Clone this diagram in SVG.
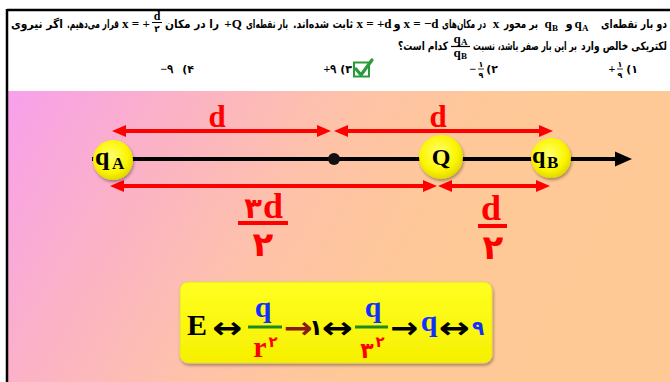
<svg xmlns="http://www.w3.org/2000/svg" width="670" height="382" viewBox="0 0 670 382">
<defs>
<style>
.fa{font-family:"DejaVu Sans",sans-serif;font-weight:bold;font-size:11.5px;fill:#000;direction:rtl;text-anchor:middle}
.m{font-family:"Liberation Serif","DejaVu Serif",serif;font-weight:bold;font-size:13px;fill:#000;text-anchor:middle}
.ms{font-family:"Liberation Serif","DejaVu Serif",serif;font-weight:bold;font-size:9px;fill:#000}
.op{font-family:"DejaVu Sans",sans-serif;font-weight:bold;font-size:11px;fill:#000;text-anchor:middle}
.num{font-family:"DejaVu Sans",sans-serif;font-weight:bold;fill:#000;text-anchor:middle}
.big{font-family:"Liberation Serif","DejaVu Serif",serif;font-weight:bold;fill:#ff0000;text-anchor:middle}
.bign{font-family:"DejaVu Sans",sans-serif;font-weight:bold;fill:#ff0000;text-anchor:middle}
.lbl{font-family:"Liberation Serif","DejaVu Serif",serif;font-weight:bold;fill:#000}
.dim{stroke:#ff0000;stroke-width:4;fill:none;marker-start:url(#ah);marker-end:url(#ah)}
.fx{font-family:"Liberation Serif","DejaVu Serif",serif;font-weight:bold;font-size:30px;text-anchor:middle}
.fn{font-family:"DejaVu Sans",sans-serif;font-weight:bold;text-anchor:middle}
.ar{font-family:"DejaVu Sans",sans-serif;font-weight:bold;font-size:30px;text-anchor:middle}
</style>
<linearGradient id="bg" x1="0" y1="0" x2="1" y2="0.25">
<stop offset="0" stop-color="#f8a0ec"/>
<stop offset="0.25" stop-color="#fbb2c6"/>
<stop offset="0.5" stop-color="#fec3a8"/>
<stop offset="0.7" stop-color="#ffc898"/>
<stop offset="1" stop-color="#ffc996"/>
</linearGradient>
<radialGradient id="ball" cx="0.45" cy="0.4" r="0.6">
<stop offset="0" stop-color="#ffff70"/>
<stop offset="0.7" stop-color="#fbf500"/>
<stop offset="1" stop-color="#e2d800"/>
</radialGradient>
<linearGradient id="box" x1="0" y1="0" x2="0" y2="1">
<stop offset="0" stop-color="#ffff20"/>
<stop offset="1" stop-color="#f6f000"/>
</linearGradient>
<filter id="sh" x="-30%" y="-30%" width="160%" height="160%">
<feDropShadow dx="1" dy="2" stdDeviation="1.5" flood-color="#000" flood-opacity="0.35"/>
</filter>
<marker id="ah" markerUnits="userSpaceOnUse" markerWidth="14" markerHeight="12" refX="4" refY="6" orient="auto-start-reverse">
<path d="M0,0 L14,6 L0,12 Z" fill="#ff0000"/>
</marker>
</defs>

<rect x="0" y="0" width="670" height="382" fill="#ffffff"/>
<rect x="8" y="91" width="662" height="291" fill="url(#bg)"/>
<line x1="7" y1="10" x2="670" y2="10" stroke="#000" stroke-width="2.5"/>
<line x1="7" y1="9" x2="7" y2="382" stroke="#000" stroke-width="2.5"/>

<g id="question">
<text class="fa" x="634" y="28" textLength="66" lengthAdjust="spacingAndGlyphs">دو بار نقطه‌ای</text>
<text class="m" x="578" y="28">q</text><text class="ms" x="582" y="31">A</text>
<text class="fa" x="569" y="28">و</text>
<text class="m" x="548" y="28">q</text><text class="ms" x="552" y="31">B</text>
<text class="fa" x="521" y="28" textLength="34" lengthAdjust="spacingAndGlyphs">بر محور</text>
<text class="m" x="496" y="28">x</text>
<text class="fa" x="464" y="28" textLength="44" lengthAdjust="spacingAndGlyphs">در مکان‌های</text>
<text class="m" x="421" y="28">x = −d</text>
<text class="fa" x="397" y="28">و</text>
<text class="m" x="374" y="28">x = +d</text>
<text class="fa" x="323" y="28" textLength="60" lengthAdjust="spacingAndGlyphs">ثابت شده‌اند.</text>
<text class="fa" x="267" y="28" textLength="42" lengthAdjust="spacingAndGlyphs">بار نقطه‌ای</text>
<text class="m" x="233" y="28">+Q</text>
<text class="fa" x="192" y="28" textLength="54" lengthAdjust="spacingAndGlyphs">را در مکان</text>
<text class="m" x="157" y="20" style="font-size:12px">d</text>
<line x1="152" y1="22.5" x2="162" y2="22.5" stroke="#000" stroke-width="1"/>
<text class="num" x="157" y="32" style="font-size:9px">۲</text>
<text class="m" x="136" y="28">x = +</text>
<text class="fa" x="93" y="28" textLength="52" lengthAdjust="spacingAndGlyphs">قرار می‌دهیم.</text>
<text class="fa" x="37" y="28" textLength="52" lengthAdjust="spacingAndGlyphs">اگر نیروی</text>

<text class="fa" x="624" y="50" textLength="86" lengthAdjust="spacingAndGlyphs">لکتریکی خالص وارد</text>
<text class="fa" x="525" y="50" textLength="104" lengthAdjust="spacingAndGlyphs">بر این بار صفر باشد، نسبت</text>
<text class="m" x="457" y="43">q</text><text class="ms" x="461" y="45">A</text>
<line x1="451" y1="46.5" x2="470" y2="46.5" stroke="#000" stroke-width="1.2"/>
<text class="m" x="457" y="57">q</text><text class="ms" x="461" y="59">B</text>
<text class="fa" x="423" y="50" textLength="50" lengthAdjust="spacingAndGlyphs">کدام است؟</text>

<text class="op" x="632" y="73">(۱</text>
<text class="m" x="612" y="73" style="font-size:12px">+</text>
<text class="num" x="620" y="67" style="font-size:8px">۱</text>
<line x1="617" y1="69" x2="623" y2="69" stroke="#000" stroke-width="0.8"/>
<text class="num" x="620" y="78" style="font-size:8px">۹</text>

<text class="op" x="492" y="73">(۲</text>
<text class="m" x="473" y="73" style="font-size:12px">−</text>
<text class="num" x="481" y="67" style="font-size:8px">۱</text>
<line x1="478" y1="69" x2="484" y2="69" stroke="#000" stroke-width="0.8"/>
<text class="num" x="481" y="78" style="font-size:8px">۹</text>

<text class="op" x="346" y="73">(۳</text>
<text class="m" x="330" y="73" style="font-size:12px">+۹</text>
<g id="check">
<rect x="354" y="62.5" width="15" height="14" fill="#ffffff" stroke="#2a9a3a" stroke-width="2"/>
<path d="M356,69 L361,75 L372,60" fill="none" stroke="#2a9a3a" stroke-width="3.2" stroke-linecap="round" stroke-linejoin="round"/>
</g>

<text class="op" x="188" y="73">(۴</text>
<text class="m" x="167" y="73" style="font-size:12px">−۹</text>
</g>

<g id="connectors">
<line x1="92" y1="159" x2="618" y2="159" stroke="#000" stroke-width="4"/>
<polygon points="615,151.5 632,159 615,166.5" fill="#000"/>
<line class="dim" x1="122" y1="131" x2="321" y2="131"/>
<line class="dim" x1="344" y1="131" x2="543" y2="131"/>
<line class="dim" x1="120" y1="186" x2="427" y2="186"/>
<line class="dim" x1="448" y1="186" x2="540" y2="186"/>
</g>

<g id="origin">
<circle cx="334" cy="159" r="6" fill="#111"/>
</g>

<g id="qA">
<circle cx="113" cy="160" r="20" fill="url(#ball)" filter="url(#sh)"/>
<text class="lbl" x="95" y="165" style="font-size:26px">q</text>
<text class="lbl" x="112" y="169" style="font-size:17px">A</text>
</g>
<g id="Q">
<circle cx="441" cy="157" r="22" fill="url(#ball)" filter="url(#sh)"/>
<text class="lbl" x="441" y="165" style="font-size:24px;text-anchor:middle">Q</text>
</g>
<g id="qB">
<circle cx="551" cy="158" r="20" fill="url(#ball)" filter="url(#sh)"/>
<text class="lbl" x="532" y="163" style="font-size:24px">q</text>
<text class="lbl" x="547" y="168" style="font-size:17px">B</text>
</g>

<g id="labels">
<text class="big" x="217" y="127" style="font-size:31px">d</text>
<text class="big" x="438" y="127" style="font-size:31px">d</text>
<text class="bign" x="253" y="218" style="font-size:29px">۳</text>
<text class="big" x="273" y="218" style="font-size:36px">d</text>
<line x1="238" y1="223" x2="288" y2="223" stroke="#ff0000" stroke-width="4"/>
<text class="bign" x="263" y="256" style="font-size:34px">۲</text>
<text class="big" x="491" y="220" style="font-size:36px">d</text>
<line x1="478" y1="226" x2="507" y2="226" stroke="#ff0000" stroke-width="4"/>
<text class="bign" x="493" y="259" style="font-size:34px">۲</text>
</g>

<g id="formula">
<rect x="180" y="282" width="312" height="81" rx="8" fill="url(#box)" stroke="#e6d84a" stroke-width="1" filter="url(#sh)"/>
<text class="fx" x="197" y="335" fill="#000">E</text>
<text class="ar" x="227" y="338" fill="#000" textLength="30" lengthAdjust="spacingAndGlyphs">↔</text>
<text class="fx" x="263" y="317" fill="#1030ff">q</text>
<line x1="248" y1="327" x2="282" y2="327" stroke="#1e8a1e" stroke-width="3"/>
<text class="fx" x="260" y="357" fill="#ff0000">r</text>
<text class="fn" x="273" y="347" fill="#ff0000" style="font-size:15px">۲</text>
<text class="ar" x="298" y="338" fill="#8b1a1a" textLength="29" lengthAdjust="spacingAndGlyphs">→</text>
<text class="fn" x="316" y="335" fill="#000" style="font-size:22px">۱</text>
<text class="ar" x="337" y="338" fill="#000" textLength="31" lengthAdjust="spacingAndGlyphs">↔</text>
<text class="fx" x="373" y="317" fill="#1030ff">q</text>
<line x1="355" y1="327" x2="388" y2="327" stroke="#1e8a1e" stroke-width="3"/>
<text class="fn" x="367" y="358" fill="#ff0000" style="font-size:22px">۳</text>
<text class="fn" x="380" y="347" fill="#ff0000" style="font-size:15px">۲</text>
<text class="ar" x="404" y="338" fill="#000" textLength="28" lengthAdjust="spacingAndGlyphs">→</text>
<text class="fx" x="429" y="331" fill="#1030ff">q</text>
<text class="ar" x="454" y="338" fill="#000" textLength="31" lengthAdjust="spacingAndGlyphs">↔</text>
<text class="fn" x="478" y="335" fill="#1030ff" style="font-size:20px">۹</text>
</g>
</svg>
